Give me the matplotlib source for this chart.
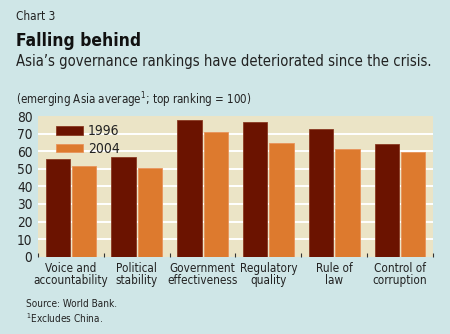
import matplotlib
matplotlib.use("Agg")
import matplotlib.pyplot as plt
import numpy as np

# data
categories = ["Voice and\naccountability", "Political\nstability", "Government\neffectiveness",
              "Regulatory\nquality", "Rule of\nlaw", "Control of\ncorruption"]
vals_1996 = [55.5, 56.5, 77.5, 76.5, 72.5, 64]
vals_2004 = [51.5, 50.5, 71, 64.5, 61, 59.5]
yticks = [0, 10, 20, 30, 40, 50, 60, 70, 80]

plt.rcParams["font.family"] = ["DejaVu Sans"]
plt.rcParams["font.stretch"] = "condensed"

BG = "#cfe6e7"
PLOT_BG = "#ebe4c6"
DARK = "#6b1300"
ORANGE = "#dd7a2e"
TEXT = "#222222"

fig = plt.figure(figsize=(4.5, 3.34), dpi=100, facecolor=BG)
ax = fig.add_axes([38 / 450, 1 - 256.7 / 334, 395 / 450, 140.7 / 334])
ax.set_facecolor(PLOT_BG)

x = np.arange(len(categories))
w = 0.37
ax.bar(x - 0.2, vals_1996, w, color=DARK, edgecolor="#8a3a22", linewidth=0.6, label="1996", zorder=3)
ax.bar(x + 0.2, vals_2004, w, color=ORANGE, edgecolor="#e8935a", linewidth=0.6, label="2004", zorder=3)

for y in yticks[1:-1]:
    ax.axhline(y, color="white", linewidth=1.4, zorder=1)

ax.set_xlim(-0.5, len(categories) - 0.5)
ax.set_ylim(0, 80)
ax.set_yticks(yticks)
ax.set_yticklabels([str(t) for t in yticks], fontsize=9.8, color=TEXT)
ax.tick_params(axis="y", length=0, pad=4)

# small group separators at the bottom
ax.set_xticks(np.arange(-0.5, len(categories), 1.0))
ax.set_xticklabels([])
ax.tick_params(axis="x", direction="in", length=3, width=0.8, color="#333333")
for i, lab in enumerate(categories):
    ax.text(i, -2.8, lab, ha="center", va="top", fontsize=8.4, color=TEXT,
            linespacing=0.95, transform=ax.transData)

for s in ax.spines.values():
    s.set_visible(False)

leg = ax.legend(loc="upper left", bbox_to_anchor=(0.025, 1.0), frameon=False, fontsize=10,
                handlelength=1.9, handleheight=0.6, handletextpad=0.4, labelspacing=0.25,
                borderaxespad=0.2)
for t in leg.get_texts():
    t.set_color(TEXT)

fig.text(16 / 450, 1 - 20 / 334, "Chart 3", fontsize=8.5, color=TEXT, va="baseline")
fig.text(16 / 450, 1 - 46 / 334, "Falling behind", fontsize=12.5, fontweight="bold",
         color="#111111", va="baseline")
fig.text(16 / 450, 1 - 66 / 334, "Asia\u2019s governance rankings have deteriorated since the crisis.",
         fontsize=10.6, color=TEXT, va="baseline")
fig.text(16 / 450, 1 - 104 / 334, "(emerging Asia average$^{1}$; top ranking = 100)",
         fontsize=8.3, color=TEXT, va="baseline")
fig.text(26 / 450, 1 - 307 / 334, "Source: World Bank.", fontsize=7.2, color=TEXT, va="baseline")
fig.text(26 / 450, 1 - 323 / 334, "$^{1}$Excludes China.", fontsize=7.2, color=TEXT, va="baseline")

fig.savefig("out.png", dpi=100, facecolor=BG)
